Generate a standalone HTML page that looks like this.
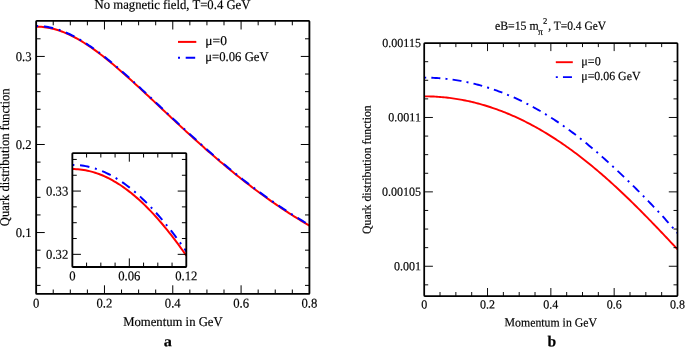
<!DOCTYPE html>
<html lang="en"><head><meta charset="utf-8"><title>Quark distribution function</title>
<style>html,body{margin:0;padding:0;background:#fff}body{width:685px;height:350px;overflow:hidden}svg{display:block;will-change:transform}text{font-family:"Liberation Serif", "DejaVu Serif", serif;fill:#000;stroke:#000;stroke-width:0.18px;text-rendering:geometricPrecision}</style></head><body>
<svg width="685" height="350" viewBox="0 0 685 350">
<defs>
<clipPath id="cl"><rect x="36.15" y="20.9" width="273.25" height="273"/></clipPath>
</defs>
<path d="M36.15 26.64L37.86 26.67L39.57 26.73L41.27 26.84L42.98 27L44.69 27.19L46.4 27.44L48.1 27.72L49.81 28.05L51.52 28.42L53.23 28.83L54.94 29.28L56.64 29.78L58.35 30.31L60.06 30.89L61.77 31.5L63.47 32.16L65.18 32.85L66.89 33.58L68.6 34.34L70.31 35.14L72.01 35.98L73.72 36.85L75.43 37.75L77.14 38.69L78.85 39.66L80.55 40.65L82.26 41.68L83.97 42.74L85.68 43.83L87.38 44.94L89.09 46.08L90.8 47.24L92.51 48.43L94.22 49.65L95.92 50.89L97.63 52.15L99.34 53.43L101.05 54.73L102.75 56.05L104.46 57.39L106.17 58.75L107.88 60.12L109.59 61.52L111.29 62.92L113 64.35L114.71 65.79L116.42 67.24L118.12 68.7L119.83 70.18L121.54 71.67L123.25 73.17L124.96 74.68L126.66 76.2L128.37 77.73L130.08 79.27L131.79 80.81L133.5 82.37L135.2 83.93L136.91 85.49L138.62 87.06L140.33 88.64L142.03 90.22L143.74 91.81L145.45 93.4L147.16 94.99L148.87 96.59L150.57 98.19L152.28 99.79L153.99 101.39L155.7 103L157.4 104.6L159.11 106.21L160.82 107.81L162.53 109.42L164.24 111.02L165.94 112.63L167.65 114.23L169.36 115.83L171.07 117.43L172.78 119.03L174.48 120.62L176.19 122.21L177.9 123.8L179.61 125.39L181.31 126.97L183.02 128.55L184.73 130.12L186.44 131.69L188.15 133.26L189.85 134.82L191.56 136.37L193.27 137.92L194.98 139.47L196.68 141.01L198.39 142.55L200.1 144.08L201.81 145.6L203.52 147.12L205.22 148.63L206.93 150.13L208.64 151.63L210.35 153.12L212.05 154.61L213.76 156.08L215.47 157.55L217.18 159.02L218.89 160.47L220.59 161.92L222.3 163.36L224.01 164.8L225.72 166.22L227.43 167.64L229.13 169.05L230.84 170.45L232.55 171.85L234.26 173.23L235.96 174.61L237.67 175.98L239.38 177.34L241.09 178.69L242.8 180.04L244.5 181.37L246.21 182.7L247.92 184.02L249.63 185.33L251.33 186.63L253.04 187.93L254.75 189.21L256.46 190.49L258.17 191.75L259.87 193.01L261.58 194.26L263.29 195.5L265 196.73L266.7 197.96L268.41 199.17L270.12 200.38L271.83 201.57L273.54 202.76L275.24 203.94L276.95 205.11L278.66 206.27L280.37 207.42L282.07 208.56L283.78 209.7L285.49 210.82L287.2 211.94L288.91 213.04L290.61 214.14L292.32 215.23L294.03 216.31L295.74 217.39L297.45 218.45L299.15 219.5L300.86 220.55L302.57 221.59L304.28 222.61L305.98 223.63L307.69 224.64L309.4 225.65" fill="none" stroke="#ff0000" stroke-width="2.0" clip-path="url(#cl)"/>
<path d="M36.15 26.03L37.86 26.05L39.57 26.12L41.27 26.23L42.98 26.38L44.69 26.58L46.4 26.82L48.1 27.1L49.81 27.43L51.52 27.8L53.23 28.21L54.94 28.67L56.64 29.16L58.35 29.7L60.06 30.27L61.77 30.89L63.47 31.54L65.18 32.23L66.89 32.96L68.6 33.73L70.31 34.53L72.01 35.36L73.72 36.23L75.43 37.14L77.14 38.07L78.85 39.04L80.55 40.04L82.26 41.07L83.97 42.12L85.68 43.21L87.38 44.32L89.09 45.46L90.8 46.63L92.51 47.82L94.22 49.03L95.92 50.27L97.63 51.53L99.34 52.81L101.05 54.11L102.75 55.43L104.46 56.77L106.17 58.13L107.88 59.51L109.59 60.9L111.29 62.31L113 63.73L114.71 65.17L116.42 66.62L118.12 68.09L119.83 69.56L121.54 71.05L123.25 72.55L124.96 74.06L126.66 75.58L128.37 77.11L130.08 78.65L131.79 80.2L133.5 81.75L135.2 83.31L136.91 84.87L138.62 86.45L140.33 88.02L142.03 89.61L143.74 91.19L145.45 92.78L147.16 94.38L148.87 95.97L150.57 97.57L152.28 99.17L153.99 100.78L155.7 102.38L157.4 103.98L159.11 105.59L160.82 107.2L162.53 108.8L164.24 110.41L165.94 112.01L167.65 113.61L169.36 115.21L171.07 116.81L172.78 118.41L174.48 120L176.19 121.59L177.9 123.18L179.61 124.77L181.31 126.35L183.02 127.93L184.73 129.5L186.44 131.07L188.15 132.64L189.85 134.2L191.56 135.76L193.27 137.31L194.98 138.85L196.68 140.4L198.39 141.93L200.1 143.46L201.81 144.98L203.52 146.5L205.22 148.01L206.93 149.51L208.64 151.01L210.35 152.5L212.05 153.99L213.76 155.47L215.47 156.94L217.18 158.4L218.89 159.86L220.59 161.3L222.3 162.75L224.01 164.18L225.72 165.6L227.43 167.02L229.13 168.43L230.84 169.84L232.55 171.23L234.26 172.62L235.96 173.99L237.67 175.36L239.38 176.72L241.09 178.08L242.8 179.42L244.5 180.76L246.21 182.09L247.92 183.4L249.63 184.72L251.33 186.02L253.04 187.31L254.75 188.59L256.46 189.87L258.17 191.14L259.87 192.4L261.58 193.64L263.29 194.89L265 196.12L266.7 197.34L268.41 198.55L270.12 199.76L271.83 200.96L273.54 202.14L275.24 203.32L276.95 204.49L278.66 205.65L280.37 206.8L282.07 207.95L283.78 209.08L285.49 210.2L287.2 211.32L288.91 212.43L290.61 213.53L292.32 214.62L294.03 215.7L295.74 216.77L297.45 217.83L299.15 218.89L300.86 219.93L302.57 220.97L304.28 222L305.98 223.02L307.69 224.03L309.4 225.03" fill="none" stroke="#0000ff" stroke-width="2.0" stroke-dasharray="2 5.7 9.5 5.7" clip-path="url(#cl)"/>
<path d="M104.46 293.9v-8.6M104.46 20.9v8.6M172.78 293.9v-8.6M172.78 20.9v8.6M241.09 293.9v-8.6M241.09 20.9v8.6M53.23 293.9v-4.4M53.23 20.9v4.4M70.31 293.9v-4.4M70.31 20.9v4.4M87.38 293.9v-4.4M87.38 20.9v4.4M121.54 293.9v-4.4M121.54 20.9v4.4M138.62 293.9v-4.4M138.62 20.9v4.4M155.7 293.9v-4.4M155.7 20.9v4.4M189.85 293.9v-4.4M189.85 20.9v4.4M206.93 293.9v-4.4M206.93 20.9v4.4M224.01 293.9v-4.4M224.01 20.9v4.4M258.17 293.9v-4.4M258.17 20.9v4.4M275.24 293.9v-4.4M275.24 20.9v4.4M292.32 293.9v-4.4M292.32 20.9v4.4M36.15 232.55h8.6M309.4 232.55h-8.6M36.15 144.49h8.6M309.4 144.49h-8.6M36.15 56.43h8.6M309.4 56.43h-8.6M36.15 285.39h4.4M309.4 285.39h-4.4M36.15 267.78h4.4M309.4 267.78h-4.4M36.15 250.17h4.4M309.4 250.17h-4.4M36.15 214.94h4.4M309.4 214.94h-4.4M36.15 197.33h4.4M309.4 197.33h-4.4M36.15 179.72h4.4M309.4 179.72h-4.4M36.15 162.1h4.4M309.4 162.1h-4.4M36.15 126.88h4.4M309.4 126.88h-4.4M36.15 109.26h4.4M309.4 109.26h-4.4M36.15 91.65h4.4M309.4 91.65h-4.4M36.15 74.04h4.4M309.4 74.04h-4.4M36.15 38.81h4.4M309.4 38.81h-4.4" fill="none" stroke="#000" stroke-width="1.0"/>
<rect x="36.15" y="20.9" width="273.25" height="273" rx="0.7" fill="none" stroke="#000" stroke-width="1.85" stroke-linejoin="round"/>
<text transform="translate(36.15 307.4) rotate(0.04)" font-size="13.3" text-anchor="middle" textLength="6.35" lengthAdjust="spacingAndGlyphs">0</text>
<text transform="translate(104.46 307.4) rotate(0.04)" font-size="13.3" text-anchor="middle" textLength="15.88" lengthAdjust="spacingAndGlyphs">0.2</text>
<text transform="translate(172.78 307.4) rotate(0.04)" font-size="13.3" text-anchor="middle" textLength="15.88" lengthAdjust="spacingAndGlyphs">0.4</text>
<text transform="translate(241.09 307.4) rotate(0.04)" font-size="13.3" text-anchor="middle" textLength="15.88" lengthAdjust="spacingAndGlyphs">0.6</text>
<text transform="translate(309.4 307.4) rotate(0.04)" font-size="13.3" text-anchor="middle" textLength="15.88" lengthAdjust="spacingAndGlyphs">0.8</text>
<text transform="translate(31.6 237.05) rotate(0.04)" font-size="13.3" text-anchor="end" textLength="15.88" lengthAdjust="spacingAndGlyphs">0.1</text>
<text transform="translate(31.6 148.99) rotate(0.04)" font-size="13.3" text-anchor="end" textLength="15.88" lengthAdjust="spacingAndGlyphs">0.2</text>
<text transform="translate(31.6 60.93) rotate(0.04)" font-size="13.3" text-anchor="end" textLength="15.88" lengthAdjust="spacingAndGlyphs">0.3</text>
<text transform="translate(172.5 8.9) rotate(0.04)" font-size="13.3" text-anchor="middle" textLength="155.8" lengthAdjust="spacingAndGlyphs">No magnetic field, T=0.4 GeV</text>
<text transform="translate(172.9 326) rotate(0.04)" font-size="13.3" text-anchor="middle" textLength="99.5" lengthAdjust="spacingAndGlyphs">Momentum in GeV</text>
<text transform="translate(9.1 157.3) rotate(-89.96)" font-size="13.3" text-anchor="middle" textLength="137.7" lengthAdjust="spacingAndGlyphs">Quark distribution function</text>
<text transform="translate(167.7 346.2) rotate(0.04)" font-size="15" text-anchor="middle" font-weight="bold" textLength="8.15" lengthAdjust="spacingAndGlyphs">a</text>
<path d="M178 41.9H196.3" stroke="#ff0000" stroke-width="2.0" fill="none"/>
<path d="M178 57.8H196.3" stroke="#0000ff" stroke-width="2.0" stroke-dasharray="2 5.7 9.5 5.7" fill="none"/>
<text transform="translate(205.3 45) rotate(0.04)" font-size="13.3" text-anchor="start" textLength="21.6" lengthAdjust="spacingAndGlyphs">μ=0</text>
<text transform="translate(205.3 60.9) rotate(0.04)" font-size="13.3" text-anchor="start" textLength="63.3" lengthAdjust="spacingAndGlyphs">μ=0.06 GeV</text>
<defs>
<clipPath id="ci"><rect x="72.35" y="153.1" width="113.95" height="113.9"/></clipPath>
</defs>
<rect x="72.35" y="153.1" width="113.95" height="113.9" fill="#fff"/>
<path d="M72.35 169.06L74.25 169.09L76.15 169.17L78.05 169.29L79.95 169.47L81.85 169.7L83.74 169.98L85.64 170.31L87.54 170.69L89.44 171.12L91.34 171.6L93.24 172.13L95.14 172.71L97.04 173.34L98.94 174.02L100.84 174.76L102.74 175.54L104.64 176.37L106.53 177.25L108.43 178.18L110.33 179.15L112.23 180.18L114.13 181.26L116.03 182.38L117.93 183.55L119.83 184.77L121.73 186.04L123.63 187.36L125.53 188.72L127.43 190.13L129.32 191.59L131.22 193.09L133.12 194.64L135.02 196.24L136.92 197.88L138.82 199.57L140.72 201.3L142.62 203.08L144.52 204.9L146.42 206.77L148.32 208.68L150.22 210.64L152.12 212.63L154.01 214.67L155.91 216.76L157.81 218.88L159.71 221.05L161.61 223.26L163.51 225.51L165.41 227.8L167.31 230.14L169.21 232.51L171.11 234.92L173.01 237.37L174.91 239.86L176.8 242.39L178.7 244.96L180.6 247.57L182.5 250.21L184.4 252.89L186.3 255.61" fill="none" stroke="#ff0000" stroke-width="2.0" clip-path="url(#ci)"/>
<path d="M72.35 164.89L74.25 164.91L76.15 164.99L78.05 165.12L79.95 165.29L81.85 165.52L83.74 165.8L85.64 166.13L87.54 166.51L89.44 166.94L91.34 167.42L93.24 167.95L95.14 168.54L97.04 169.17L98.94 169.85L100.84 170.58L102.74 171.36L104.64 172.19L106.53 173.07L108.43 174L110.33 174.98L112.23 176.01L114.13 177.08L116.03 178.21L117.93 179.38L119.83 180.6L121.73 181.87L123.63 183.18L125.53 184.55L127.43 185.96L129.32 187.41L131.22 188.92L133.12 190.47L135.02 192.06L136.92 193.71L138.82 195.39L140.72 197.13L142.62 198.91L144.52 200.73L146.42 202.59L148.32 204.51L150.22 206.46L152.12 208.46L154.01 210.5L155.91 212.58L157.81 214.71L159.71 216.87L161.61 219.08L163.51 221.33L165.41 223.63L167.31 225.96L169.21 228.33L171.11 230.74L173.01 233.2L174.91 235.69L176.8 238.22L178.7 240.78L180.6 243.39L182.5 246.03L184.4 248.71L186.3 251.43" fill="none" stroke="#0000ff" stroke-width="2.0" stroke-dasharray="2 5.7 9.5 5.7" clip-path="url(#ci)"/>
<path d="M129.32 267v-8.6M129.32 153.1v8.6M86.59 267v-4.4M86.59 153.1v4.4M100.84 267v-4.4M100.84 153.1v4.4M115.08 267v-4.4M115.08 153.1v4.4M143.57 267v-4.4M143.57 153.1v4.4M157.81 267v-4.4M157.81 153.1v4.4M172.06 267v-4.4M172.06 153.1v4.4M72.35 254.34h8.6M186.3 254.34h-8.6M72.35 191.07h8.6M186.3 191.07h-8.6M72.35 238.52h4.4M186.3 238.52h-4.4M72.35 222.71h4.4M186.3 222.71h-4.4M72.35 206.89h4.4M186.3 206.89h-4.4M72.35 175.25h4.4M186.3 175.25h-4.4M72.35 159.43h4.4M186.3 159.43h-4.4" fill="none" stroke="#000" stroke-width="1.0"/>
<rect x="72.35" y="153.1" width="113.95" height="113.9" rx="0.7" fill="none" stroke="#000" stroke-width="1.85" stroke-linejoin="round"/>
<text transform="translate(72.35 280.3) rotate(0.04)" font-size="13.3" text-anchor="middle" textLength="6.35" lengthAdjust="spacingAndGlyphs">0</text>
<text transform="translate(129.32 280.3) rotate(0.04)" font-size="13.3" text-anchor="middle" textLength="22.22" lengthAdjust="spacingAndGlyphs">0.06</text>
<text transform="translate(186.3 280.3) rotate(0.04)" font-size="13.3" text-anchor="middle" textLength="22.22" lengthAdjust="spacingAndGlyphs">0.12</text>
<text transform="translate(68.3 258.84) rotate(0.04)" font-size="13.3" text-anchor="end" textLength="22.22" lengthAdjust="spacingAndGlyphs">0.32</text>
<text transform="translate(68.3 195.57) rotate(0.04)" font-size="13.3" text-anchor="end" textLength="22.22" lengthAdjust="spacingAndGlyphs">0.33</text>
<defs>
<clipPath id="cr"><rect x="424.2" y="43.1" width="253.3" height="252.9"/></clipPath>
</defs>
<path d="M424.2 96.35L425.78 96.36L427.37 96.37L428.95 96.41L430.53 96.45L432.12 96.5L433.7 96.57L435.28 96.65L436.87 96.74L438.45 96.85L440.03 96.97L441.61 97.1L443.2 97.24L444.78 97.39L446.36 97.56L447.95 97.74L449.53 97.93L451.11 98.13L452.7 98.35L454.28 98.58L455.86 98.82L457.45 99.07L459.03 99.34L460.61 99.62L462.19 99.91L463.78 100.21L465.36 100.53L466.94 100.85L468.53 101.19L470.11 101.55L471.69 101.91L473.28 102.29L474.86 102.68L476.44 103.08L478.03 103.5L479.61 103.92L481.19 104.36L482.78 104.82L484.36 105.28L485.94 105.76L487.52 106.25L489.11 106.75L490.69 107.27L492.27 107.79L493.86 108.33L495.44 108.88L497.02 109.45L498.61 110.03L500.19 110.62L501.77 111.22L503.36 111.83L504.94 112.46L506.52 113.1L508.11 113.75L509.69 114.42L511.27 115.1L512.86 115.79L514.44 116.49L516.02 117.21L517.6 117.93L519.19 118.67L520.77 119.43L522.35 120.19L523.94 120.97L525.52 121.76L527.1 122.57L528.69 123.38L530.27 124.21L531.85 125.05L533.44 125.9L535.02 126.77L536.6 127.65L538.18 128.54L539.77 129.44L541.35 130.36L542.93 131.28L544.52 132.22L546.1 133.18L547.68 134.14L549.27 135.12L550.85 136.11L552.43 137.11L554.02 138.13L555.6 139.15L557.18 140.19L558.77 141.24L560.35 142.31L561.93 143.38L563.51 144.47L565.1 145.57L566.68 146.68L568.26 147.8L569.85 148.94L571.43 150.09L573.01 151.25L574.6 152.42L576.18 153.6L577.76 154.79L579.35 156L580.93 157.22L582.51 158.45L584.1 159.69L585.68 160.94L587.26 162.2L588.85 163.48L590.43 164.76L592.01 166.06L593.59 167.37L595.18 168.69L596.76 170.02L598.34 171.36L599.93 172.71L601.51 174.07L603.09 175.45L604.68 176.83L606.26 178.22L607.84 179.63L609.43 181.04L611.01 182.47L612.59 183.9L614.17 185.35L615.76 186.8L617.34 188.26L618.92 189.73L620.51 191.22L622.09 192.71L623.67 194.21L625.26 195.72L626.84 197.24L628.42 198.76L630.01 200.3L631.59 201.84L633.17 203.39L634.76 204.95L636.34 206.52L637.92 208.09L639.5 209.68L641.09 211.26L642.67 212.86L644.25 214.47L645.84 216.08L647.42 217.69L649 219.31L650.59 220.94L652.17 222.58L653.75 224.22L655.34 225.86L656.92 227.52L658.5 229.17L660.09 230.83L661.67 232.5L663.25 234.17L664.84 235.84L666.42 237.52L668 239.2L669.58 240.88L671.17 242.57L672.75 244.25L674.33 245.94L675.92 247.64L677.5 249.33" fill="none" stroke="#ff0000" stroke-width="1.9" clip-path="url(#cr)"/>
<path d="M424.2 77.65L425.78 77.66L427.37 77.67L428.95 77.7L430.53 77.75L432.12 77.8L433.7 77.87L435.28 77.95L436.87 78.04L438.45 78.14L440.03 78.26L441.61 78.39L443.2 78.53L444.78 78.68L446.36 78.85L447.95 79.03L449.53 79.22L451.11 79.42L452.7 79.64L454.28 79.86L455.86 80.1L457.45 80.36L459.03 80.62L460.61 80.9L462.19 81.19L463.78 81.49L465.36 81.8L466.94 82.13L468.53 82.47L470.11 82.82L471.69 83.19L473.28 83.56L474.86 83.95L476.44 84.35L478.03 84.77L479.61 85.19L481.19 85.63L482.78 86.09L484.36 86.55L485.94 87.03L487.52 87.51L489.11 88.02L490.69 88.53L492.27 89.06L493.86 89.6L495.44 90.15L497.02 90.71L498.61 91.29L500.19 91.88L501.77 92.48L503.36 93.09L504.94 93.72L506.52 94.36L508.11 95.01L509.69 95.68L511.27 96.35L512.86 97.04L514.44 97.74L516.02 98.46L517.6 99.19L519.19 99.92L520.77 100.69L522.35 101.46L523.94 102.25L525.52 103.05L527.1 103.86L528.69 104.68L530.27 105.52L531.85 106.37L533.44 107.23L535.02 108.1L536.6 108.99L538.18 109.89L539.77 110.8L541.35 111.72L542.93 112.66L544.52 113.61L546.1 114.57L547.68 115.54L549.27 116.53L550.85 117.53L552.43 118.54L554.02 119.56L555.6 120.59L557.18 121.64L558.77 122.7L560.35 123.77L561.93 124.86L563.51 125.95L565.1 127.06L566.68 128.18L568.26 129.33L569.85 130.5L571.43 131.68L573.01 132.87L574.6 134.07L576.18 135.28L577.76 136.5L579.35 137.74L580.93 138.99L582.51 140.25L584.1 141.52L585.68 142.8L587.26 144.09L588.85 145.4L590.43 146.71L592.01 148.04L593.59 149.38L595.18 150.73L596.76 152.09L598.34 153.46L599.93 154.84L601.51 156.23L603.09 157.64L604.68 159.05L606.26 160.47L607.84 161.91L609.43 163.35L611.01 164.81L612.59 166.27L614.17 167.75L615.76 169.2L617.34 170.67L618.92 172.15L620.51 173.64L622.09 175.13L623.67 176.64L625.26 178.15L626.84 179.68L628.42 181.21L630.01 182.75L631.59 184.3L633.17 185.85L634.76 187.42L636.34 188.99L637.92 190.57L639.5 192.16L641.09 193.75L642.67 195.35L644.25 196.96L645.84 198.58L647.42 200.21L649 201.85L650.59 203.5L652.17 205.16L653.75 206.82L655.34 208.48L656.92 210.16L658.5 211.83L660.09 213.51L661.67 215.2L663.25 216.97L664.84 218.74L666.42 220.52L668 222.3L669.58 224.08L671.17 225.87L672.75 227.65L674.33 229.44L675.92 231.24L677.5 233.03" fill="none" stroke="#0000ff" stroke-width="1.9" stroke-dasharray="2 5.15 9 5.15" clip-path="url(#cr)"/>
<path d="M487.52 296v-8M487.52 43.1v8M550.85 296v-8M550.85 43.1v8M614.17 296v-8M614.17 43.1v8M440.03 296v-4M440.03 43.1v4M455.86 296v-4M455.86 43.1v4M471.69 296v-4M471.69 43.1v4M503.36 296v-4M503.36 43.1v4M519.19 296v-4M519.19 43.1v4M535.02 296v-4M535.02 43.1v4M566.68 296v-4M566.68 43.1v4M582.51 296v-4M582.51 43.1v4M598.34 296v-4M598.34 43.1v4M630.01 296v-4M630.01 43.1v4M645.84 296v-4M645.84 43.1v4M661.67 296v-4M661.67 43.1v4M424.2 266.25h8.7M677.5 266.25h-8.7M424.2 191.86h8.7M677.5 191.86h-8.7M424.2 117.48h8.7M677.5 117.48h-8.7M424.2 284.84h4M677.5 284.84h-4M424.2 247.65h4M677.5 247.65h-4M424.2 229.06h4M677.5 229.06h-4M424.2 210.46h4M677.5 210.46h-4M424.2 173.27h4M677.5 173.27h-4M424.2 154.67h4M677.5 154.67h-4M424.2 136.08h4M677.5 136.08h-4M424.2 98.89h4M677.5 98.89h-4M424.2 80.29h4M677.5 80.29h-4M424.2 61.7h4M677.5 61.7h-4" fill="none" stroke="#000" stroke-width="0.95"/>
<rect x="424.2" y="43.1" width="253.3" height="252.9" rx="0.7" fill="none" stroke="#000" stroke-width="1.75" stroke-linejoin="round"/>
<text transform="translate(424.2 308.4) rotate(0.04)" font-size="12.3" text-anchor="middle" textLength="6" lengthAdjust="spacingAndGlyphs">0</text>
<text transform="translate(487.52 308.4) rotate(0.04)" font-size="12.3" text-anchor="middle" textLength="15" lengthAdjust="spacingAndGlyphs">0.2</text>
<text transform="translate(550.85 308.4) rotate(0.04)" font-size="12.3" text-anchor="middle" textLength="15" lengthAdjust="spacingAndGlyphs">0.4</text>
<text transform="translate(614.17 308.4) rotate(0.04)" font-size="12.3" text-anchor="middle" textLength="15" lengthAdjust="spacingAndGlyphs">0.6</text>
<text transform="translate(677.5 308.4) rotate(0.04)" font-size="12.3" text-anchor="middle" textLength="15" lengthAdjust="spacingAndGlyphs">0.8</text>
<text transform="translate(420.9 270.15) rotate(0.04)" font-size="12.3" text-anchor="end" textLength="27" lengthAdjust="spacingAndGlyphs">0.001</text>
<text transform="translate(420.9 195.76) rotate(0.04)" font-size="12.3" text-anchor="end" textLength="39" lengthAdjust="spacingAndGlyphs">0.00105</text>
<text transform="translate(420.9 121.38) rotate(0.04)" font-size="12.3" text-anchor="end" textLength="32.55" lengthAdjust="spacingAndGlyphs">0.0011</text>
<text transform="translate(420.9 47) rotate(0.04)" font-size="12.3" text-anchor="end" textLength="38.55" lengthAdjust="spacingAndGlyphs">0.00115</text>
<text transform="translate(494.9 29.8) rotate(0.04)" font-size="12.3" text-anchor="start" textLength="43.69" lengthAdjust="spacingAndGlyphs">eB=15 m</text>
<text transform="translate(538 34.9) rotate(0.04)" font-size="9.6" text-anchor="start">π</text>
<text transform="translate(542.9 23.7) rotate(0.04)" font-size="8.6" text-anchor="start">2</text>
<text transform="translate(548.3 29.8) rotate(0.04)" font-size="12.3" text-anchor="start" textLength="57.7" lengthAdjust="spacingAndGlyphs">, T=0.4 GeV</text>
<text transform="translate(550.8 326.4) rotate(0.04)" font-size="12.3" text-anchor="middle" textLength="92.4" lengthAdjust="spacingAndGlyphs">Momentum in GeV</text>
<text transform="translate(370.8 169.6) rotate(-89.96)" font-size="12.3" text-anchor="middle" textLength="128.6" lengthAdjust="spacingAndGlyphs">Quark distribution function</text>
<text transform="translate(551.8 346.2) rotate(0.04)" font-size="15" text-anchor="middle" font-weight="bold" textLength="8.7" lengthAdjust="spacingAndGlyphs">b</text>
<path d="M555.8 62.2H572.8" stroke="#ff0000" stroke-width="1.9" fill="none"/>
<path d="M555.8 77.1H572.8" stroke="#0000ff" stroke-width="1.9" stroke-dasharray="2 5.15 9 5.15" fill="none"/>
<text transform="translate(581.3 65.3) rotate(0.04)" font-size="12.3" text-anchor="start" textLength="19.4" lengthAdjust="spacingAndGlyphs">μ=0</text>
<text transform="translate(581.3 79.9) rotate(0.04)" font-size="12.3" text-anchor="start" textLength="59.2" lengthAdjust="spacingAndGlyphs">μ=0.06 GeV</text>
</svg></body></html>
